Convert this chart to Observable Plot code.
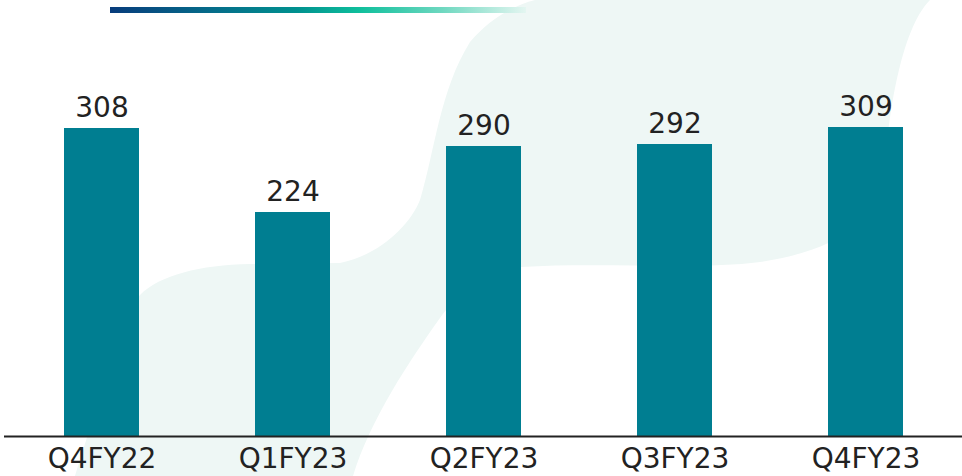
<!DOCTYPE html>
<html>
<head>
<meta charset="utf-8">
<script src="https://cdn.jsdelivr.net/npm/d3@7"></script>
<script src="https://cdn.jsdelivr.net/npm/@observablehq/plot@0.6"></script>
<style>
  html, body { margin: 0; padding: 0; background: #ffffff; }
  #wrap { position: relative; width: 962px; height: 476px; overflow: hidden; font-family: "DejaVu Sans", sans-serif; }
  #bg { position: absolute; left: 0; top: 0; }
  #bar-deco { position: absolute; left: 110px; top: 7px; width: 416px; height: 6px;
    background: linear-gradient(to right, #083c7c 0%, #056d8a 25%, #00918f 45%, #0fbf9c 60%, #6fd8c0 80%, #e4f6f1 100%); }
  #chart { position: absolute; left: 0; top: 0; }
</style>
</head>
<body>
<div id="wrap">
  <svg id="bg" width="962" height="476">
    <path fill="#eef7f5" d="M535,0 L930,0 C900,30 888,120 885,167 C880,220 840,250 760,262 C700,270 600,262 521,267 C480,275 452,300 440,318 C410,360 370,420 353,476 L75,476 C100,400 118,320 140,295 C160,275 200,265 250,264 L340,263 C380,255 410,225 420,200 C435,150 440,90 470,42 C490,18 515,5 535,0 Z"/>
  </svg>
  <div id="bar-deco"></div>
  <div id="chart"></div>
</div>
<script>
const quarters = ["Q4FY22", "Q1FY23", "Q2FY23", "Q3FY23", "Q4FY23"];
const values = [308, 224, 290, 292, 309];

const data = quarters.map((q, i) => ({quarter: q, value: values[i]}));

const chart = Plot.plot({
  width: 962,
  height: 476,
  marginLeft: 4,
  marginRight: 0,
  marginTop: 36,
  marginBottom: 40,
  style: {background: "transparent", fontFamily: "DejaVu Sans, sans-serif", overflow: "visible"},
  x: {domain: quarters, paddingInner: 0.6089, paddingOuter: 0.3025, label: null},
  y: {domain: [0, 400], axis: null},
  marks: [
    Plot.barY(data, {x: "quarter", y: "value", fill: "#007e91"}),
    Plot.ruleY([0], {stroke: "#222222", strokeWidth: 2}),
    Plot.text(data, {x: "quarter", y: "value", text: d => String(d.value), lineAnchor: "bottom", dy: -12, fontSize: 28, fill: "#222222"}),
    Plot.axisX({tickSize: 0, tickPadding: 12, fontSize: 28, fill: "#222222", label: null})
  ]
});
document.getElementById("chart").appendChild(chart);
</script>
</body>
</html>
